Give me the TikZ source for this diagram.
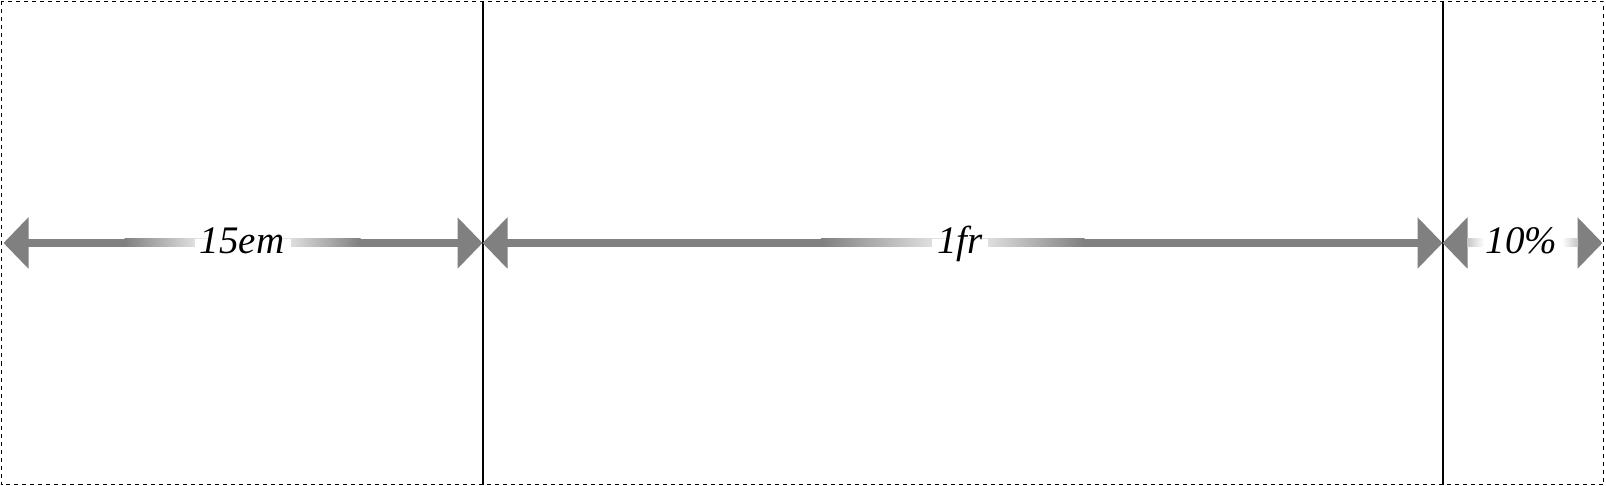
\documentclass[tikz,border=0pt]{standalone}
\usepackage{fontspec}
\setmainfont{Liberation Serif}
\usetikzlibrary{arrows.meta}
\tikzset{
  frame/.style={draw=black, line width=1.8pt, dash pattern=on 4pt off 4pt},
  divider/.style={draw=black, line width=2pt},
  dimarrow/.style={draw=gray, line width=8pt,
    {Triangle[length=25pt,width=50pt]}-{Triangle[length=25pt,width=50pt]}},
  fadeout/.style={left color=gray, right color=white},
  fadein/.style={left color=white, right color=gray},
  dimlabel/.style={font=\fontsize{39}{46}\selectfont\itshape, inner sep=0pt, anchor=base},
}
\begin{document}
\begin{tikzpicture}[x=1pt,y=-1pt]
\useasboundingbox (0,0) rectangle (1606,486);
\draw[frame] (1.5,1.5) rectangle (1603.5,484.5);
% column dividers
\coordinate (d1t) at (482.5,1.5);
\coordinate (d1b) at (482.5,484.5);
\coordinate (d2t) at (1442.5,1.5);
\coordinate (d2b) at (1442.5,484.5);
\draw[divider] (d1t) -- (d1b);
\draw[divider] (d2t) -- (d2b);
% arrow end points
\coordinate (L0) at (3.5,243);
\coordinate (L1) at (482.5,243);
\coordinate (L2) at (1442.5,243);
\coordinate (L3) at (1602.5,243);
\draw[dimarrow] (L0) -- (L1);
\draw[dimarrow] (L1) -- (L2);
\draw[dimarrow] (L2) -- (L3);
% fades, arrow 1 (gradient occupies middle half of each box)
\shade[fadeout] (124.5,239) rectangle (218.5,247);
\shade[fadein] (266.5,239) rectangle (360.5,247);
\fill[white] (194.5,239) rectangle (290.5,247);
% fades, arrow 2
\shade[fadeout] (821,239) rectangle (969,247);
\shade[fadein] (954.5,239) rectangle (1084.5,247);
\fill[white] (931.5,239) rectangle (987.5,247);
% fades, arrow 3
\shade[left color=gray!45, right color=white] (1467,239) rectangle (1484,247);
\fill[white] (1483.5,239) rectangle (1562.5,247);
\shade[left color=white, right color=gray!45] (1562,239) rectangle (1578,247);
% labels
\node[dimlabel] (t1) at (242,253.5) {15em};
\node[dimlabel] (t2) at (960,253.5) {1fr};
\node[dimlabel] (t3) at (1521.5,253.5) {10\%};
\end{tikzpicture}
\end{document}
